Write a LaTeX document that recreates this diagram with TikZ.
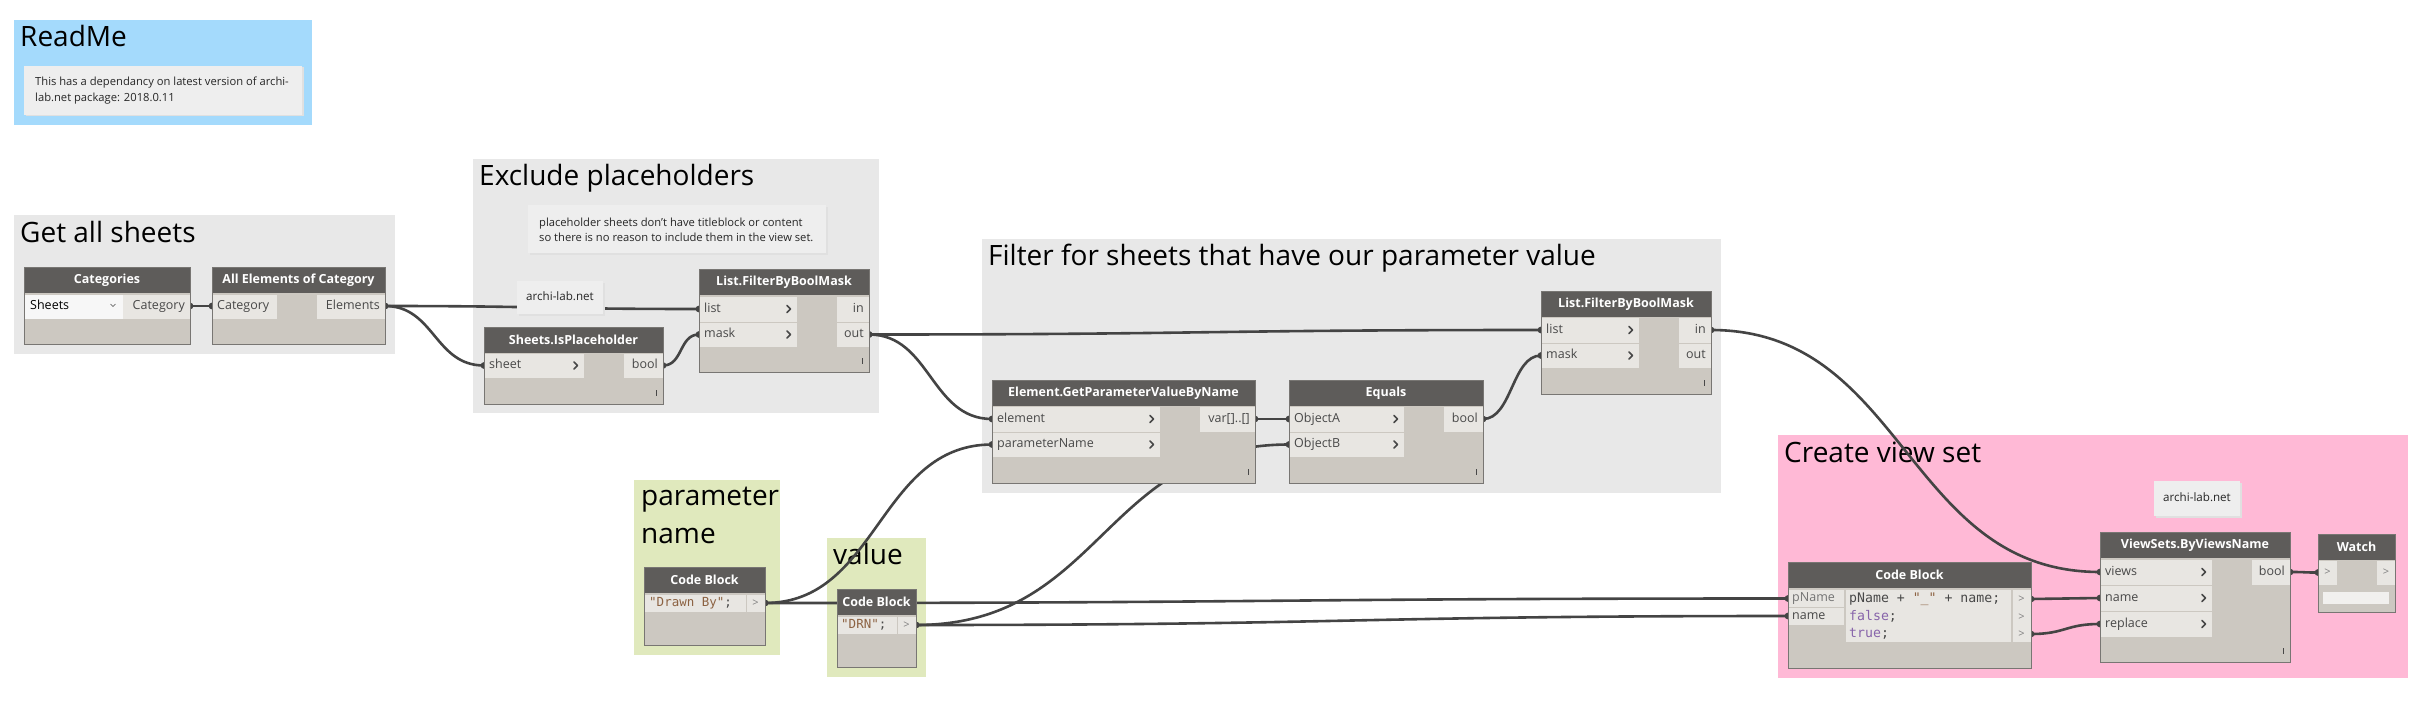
\documentclass[tikz,border=0pt]{standalone}
\usepackage{fontspec}
\setmainfont{Open Sans}
\newfontfamily\codefont{DejaVu Sans Mono}
\usetikzlibrary{calc}
\pgfdeclarelayer{groups}
\pgfdeclarelayer{wires}
\pgfdeclarelayer{top}
\pgfsetlayers{groups,wires,main,top}
\definecolor{grayg}{RGB}{232,232,232}
\definecolor{blueg}{RGB}{164,218,252}
\definecolor{greeng}{RGB}{224,233,189}
\definecolor{pinkg}{RGB}{255,185,214}
\definecolor{headc}{RGB}{94,92,90}
\definecolor{bodyc}{RGB}{204,200,193}
\definecolor{rowc}{RGB}{232,230,226}
\definecolor{bordc}{RGB}{120,118,115}
\definecolor{txtc}{RGB}{72,72,72}
\definecolor{wirec}{RGB}{68,68,68}
\definecolor{notec}{RGB}{238,238,238}
\definecolor{strc}{RGB}{140,98,66}
\definecolor{kwc}{RGB}{135,100,170}
\tikzset{
  grp/.style={fill=#1, draw=none, inner sep=0, outer sep=0, anchor=north west},
  gtitle/.style={anchor=base west, inner sep=0, font=\fontsize{28}{34}\selectfont, text=black},
  dyn/.style={fill=bodyc, draw=none, inner sep=0, outer sep=0, anchor=north west},
  hdr/.style={text=white, font=\fontsize{12.5}{14}\bfseries, inner sep=0},
  port/.style={text=txtc, font=\fontsize{12.5}{14}\selectfont, inner sep=0, text height=9, text depth=3},
  code/.style={text=txtc, font=\fontsize{12.5}{14}\codefont, inner sep=0, text height=9, text depth=3, anchor=west},
  chev/.style={draw=txtc, line width=1.6pt, line cap=round, line join=round},
  wire/.style={draw=wirec, line width=2.6pt},
  notebox/.style={fill=notec, draw=none, inner sep=0, outer sep=0, anchor=north west},
  notetxt/.style={text=black!85, font=\fontsize{11.2}{16}\selectfont, inner sep=0, align=left, anchor=west},
}
\newcommand\grpbox[6]{\node[grp=#6, minimum width={#4-#2}, minimum height={#5-#3}] (#1) at (#2,#3) {};}
\newcommand\dnode[6]{%
  \node[dyn, minimum width={#4-#2}, minimum height={#5-#3}] (#1) at (#2,#3) {};
  \fill[headc] (#2,#3) rectangle (#4,#3+26);
  \node[hdr] at ({(#2+#4)/2},#3+13) {#6};
  \draw[bordc, line width=1pt] (#2,#3) rectangle (#4,#5);}
\newcommand\inrow[6]{%
  \fill[rowc] (#1+0.5,#2+0.5) rectangle (#3,#4-0.5);
  \node[port, anchor=west] at (#1+5,{(#2+#4)/2}) {#5};
  \ifnum#6=1 \draw[chev] (#3-10,{(#2+#4)/2-3.5}) -- (#3-6.5,{(#2+#4)/2}) -- (#3-10,{(#2+#4)/2+3.5});\fi}
\newcommand\outrow[5]{%
  \fill[rowc] (#1,#2+0.5) rectangle (#3-0.5,#4-0.5);
  \node[port, anchor=east] at (#3-5,{(#2+#4)/2}) {#5};}
\newcommand\lacing[2]{\draw[txtc, line width=1pt] (#1-7,#2-14) -- (#1-7,#2-8);}
\newcommand\notebox[5]{%
  \fill[black!12] (#2+1.5,#3+1.5) rectangle (#4+1.5,#5+1.5);
  \node[notebox, minimum width={#4-#2}, minimum height={#5-#3}] (#1) at (#2,#3) {};}
\newcommand\wire[2]{%
  \draw[wire] let \p1=(#1), \p2=(#2), \n1={max(abs(\x2-\x1)/2,20)} in
    (#1) .. controls ({\x1+\n1*1pt},\y1) and ({\x2-\n1*1pt},\y2) .. (#2);
  \fill[wirec] (#1) circle (3.4); \fill[wirec] (#2) circle (3.4);}
\begin{document}
\begin{tikzpicture}[x=1pt,y=-1pt]
\useasboundingbox (0,0) rectangle (2425,706);
% ---------- groups ----------
\begin{pgfonlayer}{groups}
\fill[white] (0,0) rectangle (2425,706);
\grpbox{gReadMe}{14}{20}{312}{125}{blueg}
\node[gtitle] at (20,47) {ReadMe};
\grpbox{gSheets}{14}{215}{395}{354}{grayg}
\node[gtitle] at (20,242) {Get all sheets};
\grpbox{gExcl}{473}{159}{879}{413}{grayg}
\node[gtitle] at (479,185) {Exclude placeholders};
\grpbox{gFilter}{982}{239}{1721}{493}{grayg}
\node[gtitle] at (988,265) {Filter for sheets that have our parameter value};
\grpbox{gParam}{634}{480}{780}{655}{greeng}
\node[gtitle] at (641,505) {parameter};
\node[gtitle] at (641,543) {name};
\grpbox{gValue}{827}{538}{926}{677}{greeng}
\node[gtitle] at (833,564) {value};
\grpbox{gCreate}{1778}{435}{2408}{678}{pinkg}
\node[gtitle] at (1784,462) {Create view set};
\end{pgfonlayer}
% ---------- notes ----------
\notebox{nReadMe}{24}{66}{302}{115}
\node[notetxt] at (35,91) {This has a dependancy on latest version of archi-\\lab.net package: 2018.0.11};
\notebox{nPlace}{528}{205}{826}{253}
\node[notetxt, font=\fontsize{11.2}{15}\selectfont] at (539,229.5) {placeholder sheets don't have titleblock or content\\so there is no reason to include them in the view set.};
% ---------- nodes ----------
\dnode{cat}{24}{267}{190}{344}{Categories}
\fill[black!3] (25,294.5) rectangle (123,318.5);
\node[port, anchor=west, text=black] at (30,306) {Sheets};
\draw[txtc, line width=0.7pt] (110.5,304) -- (113,306.5) -- (115.5,304);
\outrow{123}{294}{190}{319}{Category}
\coordinate (cat-out) at (190,306);

\dnode{allel}{212}{267}{385}{344}{All Elements of Category}
\inrow{212}{294}{277}{319}{Category}{0}
\outrow{317}{294}{385}{319}{Elements}
\coordinate (allel-in) at (212,306);
\coordinate (allel-out) at (385,306);

\dnode{isph}{484}{327}{663}{404}{Sheets.IsPlaceholder}
\inrow{484}{353}{584}{378}{sheet}{1}
\outrow{624}{353}{663}{378}{bool}
\lacing{663}{404}
\coordinate (isph-in) at (484,365.5);
\coordinate (isph-out) at (663,365.5);

\dnode{fbma}{699}{269}{869}{372}{List.FilterByBoolMask}
\inrow{699}{296}{797}{322}{list}{1}
\inrow{699}{322}{797}{347}{mask}{1}
\outrow{837}{296}{869}{322}{in}
\outrow{837}{322}{869}{347}{out}
\lacing{869}{372}
\coordinate (fbma-list) at (699,309);
\coordinate (fbma-mask) at (699,334.5);
\coordinate (fbma-out) at (869,334.5);

\dnode{fbmb}{1541}{291}{1711}{394}{List.FilterByBoolMask}
\inrow{1541}{317}{1639}{343}{list}{1}
\inrow{1541}{343}{1639}{368}{mask}{1}
\outrow{1679}{317}{1711}{343}{in}
\outrow{1679}{343}{1711}{368}{out}
\lacing{1711}{394}
\coordinate (fbmb-list) at (1541,330);
\coordinate (fbmb-mask) at (1541,355.5);
\coordinate (fbmb-in) at (1711,330);

\dnode{gpv}{992}{380}{1255}{483}{Element.GetParameterValueByName}
\inrow{992}{406}{1160}{432}{element}{1}
\inrow{992}{432}{1160}{457}{parameterName}{1}
\outrow{1200}{406}{1255}{432}{var[]..[]}
\lacing{1255}{483}
\coordinate (gpv-el) at (992,419);
\coordinate (gpv-pn) at (992,444.5);
\coordinate (gpv-out) at (1255,419);

\dnode{eq}{1289}{380}{1483}{483}{Equals}
\inrow{1289}{406}{1404}{432}{ObjectA}{1}
\inrow{1289}{432}{1404}{457}{ObjectB}{1}
\outrow{1444}{406}{1483}{432}{bool}
\lacing{1483}{483}
\coordinate (eq-a) at (1289,419);
\coordinate (eq-b) at (1289,444.5);
\coordinate (eq-out) at (1483,419);

\dnode{cba}{644}{567}{765}{645}{Code Block}
\fill[rowc] (644.5,594.5) rectangle (745.5,612);
\node[code, text=strc] at (649,603) {"Drawn By"\textcolor{txtc}{;}};
\fill[rowc] (746.5,594.5) rectangle (764.5,612);
\node[port, text=black!50, font=\fontsize{11}{12}\selectfont] at (755.5,603) {>};
\coordinate (cba-out) at (765,603);

\dnode{cbb}{837}{589}{916}{667}{Code Block}
\fill[rowc] (837.5,616.5) rectangle (896.5,634);
\node[code, text=strc] at (841,625) {"DRN"\textcolor{txtc}{;}};
\fill[rowc] (897.5,616.5) rectangle (915.5,634);
\node[port, text=black!50, font=\fontsize{11}{12}\selectfont] at (906.5,625) {>};
\coordinate (cbb-out) at (916,625);

\dnode{cbc}{1788}{562}{2031}{668}{Code Block}
\fill[rowc] (1788.5,589.5) rectangle (1844,607);
\fill[rowc] (1788.5,607.5) rectangle (1844,624.5);
\node[port, anchor=west, text=black!55] at (1792,598.5) {pName};
\node[port, anchor=west] at (1792,616) {name};
\fill[rowc] (1846,589.5) rectangle (2011,642);
\node[code, font=\fontsize{13.2}{14}\codefont] at (1849,599) {pName + \textcolor{strc}{"\_"} + name;};
\node[code, font=\fontsize{13.2}{14}\codefont, text=kwc] at (1849,617) {false\textcolor{txtc}{;}};
\node[code, font=\fontsize{13.2}{14}\codefont, text=kwc] at (1849,634) {true\textcolor{txtc}{;}};
\fill[rowc] (2012.5,589.5) rectangle (2030.5,642);
\foreach \yy in {599,617,634}{\node[port, text=black!50, font=\fontsize{11}{12}\selectfont] at (2021.5,\yy) {>};}
\coordinate (cbc-pn) at (1788,598.5);
\coordinate (cbc-nm) at (1788,616);
\coordinate (cbc-o1) at (2031,599);
\coordinate (cbc-o3) at (2031,634);

\dnode{vs}{2100}{532}{2290}{662}{ViewSets.ByViewsName}
\inrow{2100}{559}{2212}{585}{views}{1}
\inrow{2100}{585}{2212}{611}{name}{1}
\inrow{2100}{611}{2212}{637}{replace}{1}
\outrow{2252}{559}{2290}{585}{bool}
\lacing{2290}{662}
\coordinate (vs-views) at (2100,572);
\coordinate (vs-name) at (2100,598);
\coordinate (vs-rep) at (2100,624);
\coordinate (vs-out) at (2290,572);

\dnode{watch}{2318}{534}{2395}{612}{Watch}
\fill[rowc] (2318.5,560.5) rectangle (2337,585);
\fill[rowc] (2377,560.5) rectangle (2394.5,585);
\node[port, text=black!50, font=\fontsize{11}{12}\selectfont] at (2327.5,572.5) {>};
\node[port, text=black!50, font=\fontsize{11}{12}\selectfont] at (2386,572.5) {>};
\fill[rowc!60!white] (2323,592) rectangle (2389,604);
\coordinate (watch-in) at (2318,572.5);

% ---------- archi-lab notes (above wires) ----------
\begin{pgfonlayer}{top}
\notebox{nAl1}{517}{281}{603}{314}
\node[port, text=black!85, font=\fontsize{11.6}{12}\selectfont] at (560,297.5) {archi-lab.net};
\end{pgfonlayer}
\notebox{nAl2}{2154}{481}{2240}{516}
\node[port, text=black!85, font=\fontsize{11.6}{12}\selectfont] at (2197,498.5) {archi-lab.net};

% ---------- wires ----------
\begin{pgfonlayer}{wires}
\wire{cat-out}{allel-in}
\wire{allel-out}{fbma-list}
\wire{allel-out}{isph-in}
\wire{isph-out}{fbma-mask}
\wire{fbma-out}{fbmb-list}
\wire{fbma-out}{gpv-el}
\wire{gpv-out}{eq-a}
\wire{eq-out}{fbmb-mask}
\wire{fbmb-in}{vs-views}
\wire{cba-out}{gpv-pn}
\wire{cba-out}{cbc-pn}
\wire{cbb-out}{eq-b}
\wire{cbb-out}{cbc-nm}
\wire{cbc-o1}{vs-name}
\wire{cbc-o3}{vs-rep}
\wire{vs-out}{watch-in}
\end{pgfonlayer}
\end{tikzpicture}
\end{document}
